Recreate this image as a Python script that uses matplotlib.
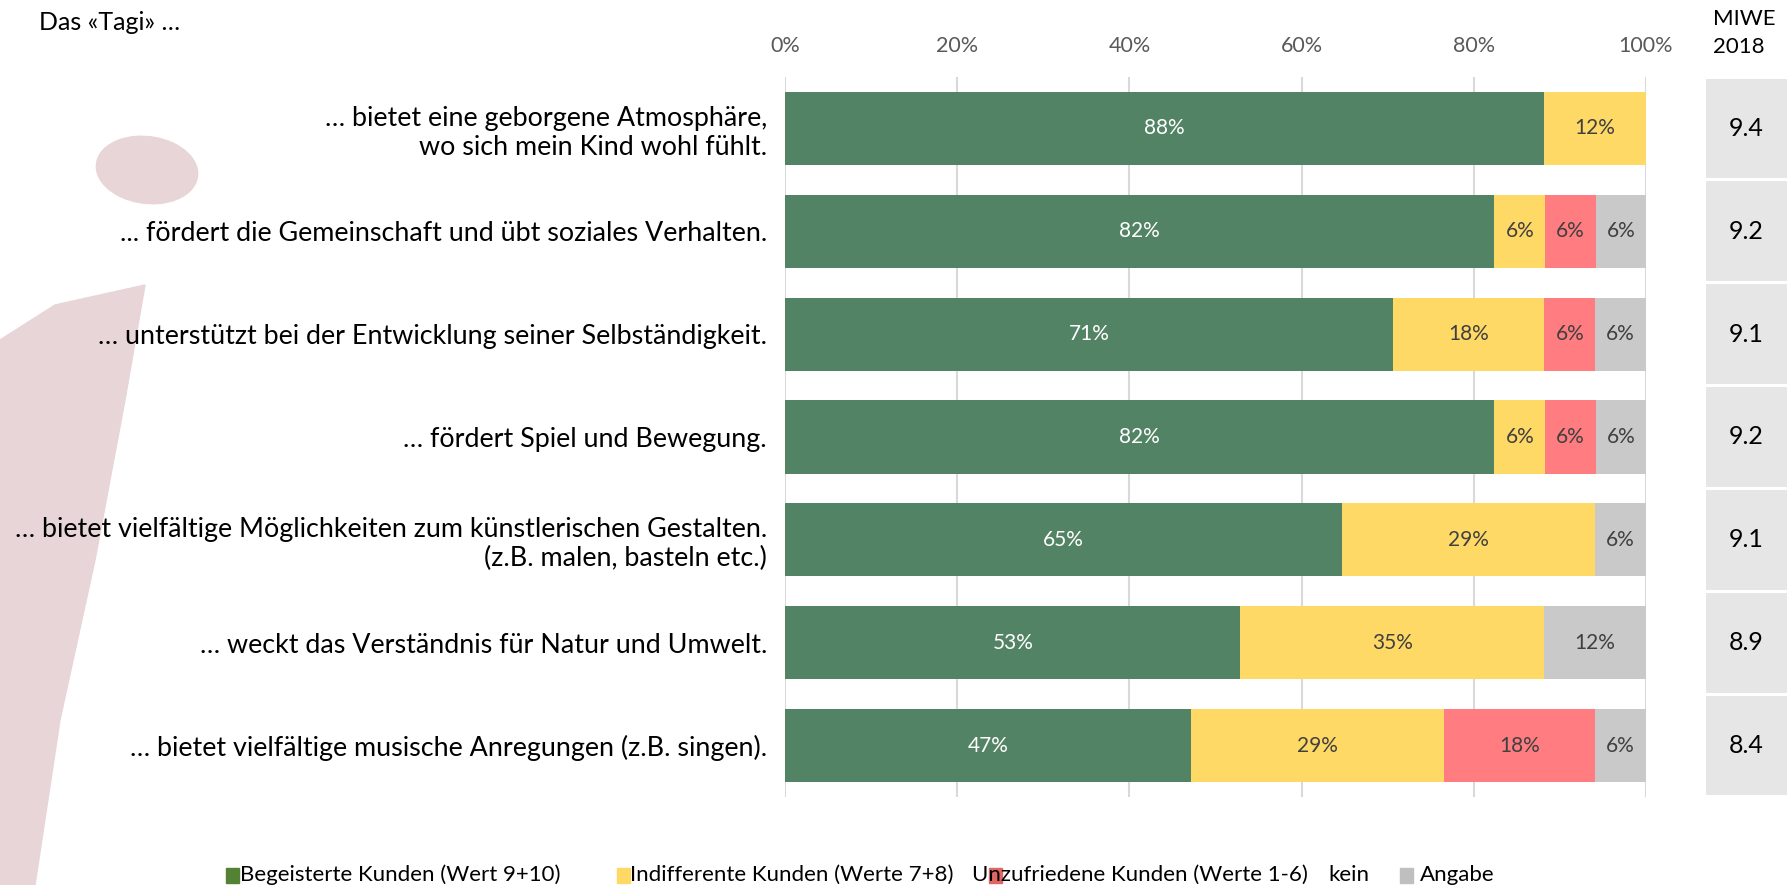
import matplotlib
matplotlib.use("Agg")
import matplotlib.pyplot as plt
from matplotlib.patches import Rectangle, Polygon, Ellipse
import numpy as np

plt.rcParams['font.family'] = ['Lato', 'DejaVu Sans']

kategorien = ["… bietet eine geborgene Atmosphäre,\nwo sich mein Kind wohl fühlt.",
              "... fördert die Gemeinschaft und übt soziales Verhalten.",
              "… unterstützt bei der Entwicklung seiner Selbständigkeit.",
              "… fördert Spiel und Bewegung.",
              "… bietet vielfältige Möglichkeiten zum künstlerischen Gestalten.\n(z.B. malen, basteln etc.)",
              "… weckt das Verständnis für Natur und Umwelt.",
              "… bietet vielfältige musische Anregungen (z.B. singen)."]
begeistert = [88.2, 82.4, 70.6, 82.4, 64.7, 52.9, 47.1]
indifferent = [11.8, 5.9, 17.6, 5.9, 29.4, 35.3, 29.4]
unzufrieden = [0, 5.9, 5.9, 5.9, 0, 0, 17.6]
keine_angabe = [0, 5.9, 5.9, 5.9, 5.9, 11.8, 5.9]
miwe = [9.4, 9.2, 9.1, 9.2, 9.1, 8.9, 8.4]
xticks = [0, 20, 40, 60, 80, 100]

W, H = 1787, 885
fig = plt.figure(figsize=(W/100, H/100), dpi=100)

def fx(x):
    return x / W

def fy(y):
    return 1 - y / H

# watermark "i" im Hintergrund
wm = '#e8d5d7'
fig.patches.append(Polygon([(fx(0), fy(340)), (fx(55), fy(305)), (fx(145), fy(285)),
                            (fx(125), fy(400)), (fx(95), fy(560)), (fx(60), fy(720)),
                            (fx(35), fy(885)), (fx(0), fy(885))],
                           closed=True, transform=fig.transFigure, color=wm, zorder=-2))
fig.patches.append(Ellipse((fx(147), fy(170)), fx(100), 68/H, angle=10,
                           transform=fig.transFigure, color=wm, zorder=-2))

ax = fig.add_axes([fx(785), fy(797), fx(1646-785), (797-77)/H])
ax.patch.set_alpha(0)
y = np.arange(len(kategorien))
serien = [begeistert, indifferent, unzufrieden, keine_angabe]
farben = ['#538365', '#ffd966', '#ff7c80', '#c9c9c9']
textfarben = ['white', '#404040', '#404040', '#404040']
links = np.zeros(len(kategorien))
for werte, farbe, tf in zip(serien, farben, textfarben):
    werte = np.array(werte)
    ax.barh(y, werte, left=links, height=0.71, color=farbe, zorder=2)
    for yi, l, v in zip(y, links, werte):
        if v > 0:
            ax.text(l + v/2, yi, f"{round(v):.0f}%", ha='center', va='center',
                    color=tf, fontsize=15, zorder=3)
    links += werte

ax.set_xlim(0, 100)
ax.set_ylim(len(kategorien) - 0.5, -0.5)
ax.set_xticks(xticks)
ax.set_xticklabels([f"{t}%" for t in xticks])
ax.xaxis.tick_top()
ax.tick_params(axis='x', length=0, pad=15, labelsize=15.5, labelcolor='#595959')
ax.set_yticks(y)
ax.set_yticklabels(kategorien, fontsize=19.4)
ax.tick_params(axis='y', length=0, pad=13)
ax.grid(axis='x', color='#d9d9d9', linewidth=1.5, zorder=1)
ax.set_axisbelow(True)
for s in ax.spines.values():
    s.set_visible(False)

# MIWE Spalte
ax2 = fig.add_axes([fx(1706), fy(797), fx(90), (797-77)/H])
ax2.barh(y, [1]*len(y), height=0.97, color='#e7e6e6')
for yi, m in zip(y, miwe):
    ax2.text(0.45, yi, f"{m:.1f}", ha='center', va='center', fontsize=18)
ax2.set_xlim(0, 1)
ax2.set_ylim(len(kategorien) - 0.5, -0.5)
ax2.axis('off')

fig.text(fx(1713), fy(33), "MIWE\n2018", ha='left', va='center', fontsize=16, linespacing=1.45)
fig.text(fx(39), fy(23), "Das «Tagi» …", ha='left', va='center', fontsize=18)

# Legende
leg_y = 875
eintraege = [(226, '#548235', 240, "Begeisterte Kunden (Wert 9+10)"),
             (617, '#ffd966', 630, "Indifferente Kunden (Werte 7+8)"),
             (989, '#e06666', 972, "Unzufriedene Kunden (Werte 1-6)"),
             (1400, '#bfbfbf', 1420, "Angabe")]
for qx, qf, tx, txt in eintraege:
    fig.patches.append(Rectangle((fx(qx), fy(883)), fx(13), 15/H,
                                 transform=fig.transFigure, color=qf, zorder=1))
    fig.text(fx(tx), fy(leg_y), txt, ha='left', va='center', fontsize=16, zorder=2)
fig.text(fx(1328), fy(leg_y), "kein", ha='left', va='center', fontsize=16)

fig.savefig("out.png", dpi=100)
